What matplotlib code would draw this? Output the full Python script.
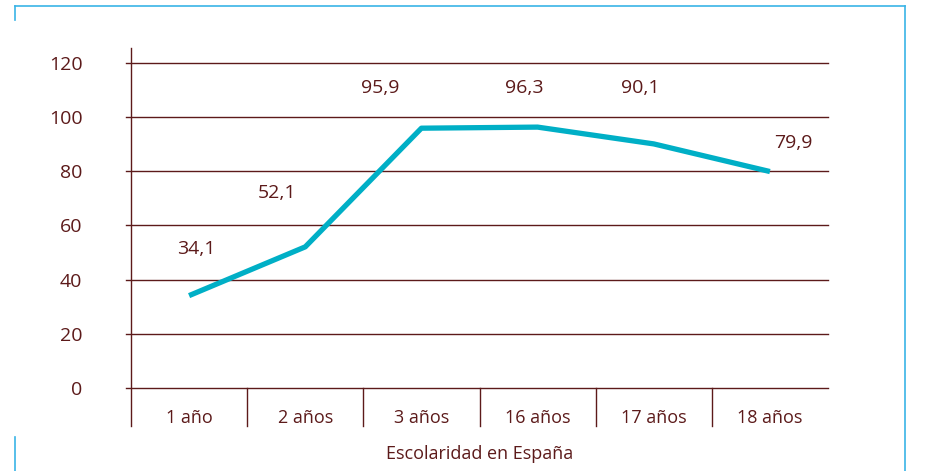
import matplotlib.pyplot as plt
from matplotlib.lines import Line2D

# datos
categorias = ["1 año", "2 años", "3 años", "16 años", "17 años", "18 años"]
valores = [34.1, 52.1, 95.9, 96.3, 90.1, 79.9]
etiquetas = ["34,1", "52,1", "95,9", "96,3", "90,1", "79,9"]
yticks = [0, 20, 40, 60, 80, 100, 120]

# desplazamiento de cada etiqueta (pixeles)
lab_dx = [7, -28, -41, -13, -14, 23]
lab_dy = [47, 54, 40, 39, 56, 29]

granate = "#5c1a1a"
cian = "#00afc6"
azul = "#3ab4e6"

plt.rcParams['font.family'] = ['Open Sans', 'DejaVu Sans']

fig = plt.figure(figsize=(9.3, 4.71), dpi=100)
ax = fig.add_axes([131/930, 83/471, 697/930, 340/471])

x = list(range(len(categorias)))
ax.set_xlim(-0.5, len(categorias) - 0.5)
ax.set_ylim(0, 125.5)

for v in yticks:
    ax.plot([-0.54, len(categorias) - 0.5], [v, v], color=granate, lw=1, clip_on=False, zorder=1)

ax.plot(x, valores, color=cian, lw=3.8, solid_capstyle='butt', zorder=3)

for i in range(len(valores)):
    ax.annotate(etiquetas[i], (x[i], valores[i]), xytext=(lab_dx[i], lab_dy[i]),
                textcoords='offset pixels', ha='center', va='center',
                fontsize=14, color=granate)

# eje y extendido y separadores de categorias
ax.plot([-0.5, -0.5], [-14, 125.5], color=granate, lw=1, clip_on=False)
for k in range(1, len(categorias)):
    ax.plot([k - 0.5, k - 0.5], [-14, 0], color=granate, lw=1, clip_on=False)

for s in ax.spines.values():
    s.set_visible(False)

ax.set_yticks(yticks)
ax.set_yticklabels([str(v) for v in yticks])
ax.tick_params(axis='y', length=0, pad=35, labelsize=14, labelcolor=granate)
ax.set_xticks(x)
ax.set_xticklabels(categorias)
ax.tick_params(axis='x', length=0, pad=15, labelsize=13, labelcolor=granate)
ax.set_xlabel("Escolaridad en España", fontsize=13, color=granate, labelpad=13)

# marco azul
fig.add_artist(Line2D([15/930, 905/930], [1 - 6/471, 1 - 6/471], color=azul, lw=1.2))
fig.add_artist(Line2D([905/930, 905/930], [0, 1 - 6/471], color=azul, lw=1.2))
fig.add_artist(Line2D([15/930, 15/930], [1 - 20/471, 1 - 6/471], color=azul, lw=1.2))
fig.add_artist(Line2D([15/930, 15/930], [0, 34/471], color=azul, lw=1.2))

fig.savefig("out.png", dpi=100)
